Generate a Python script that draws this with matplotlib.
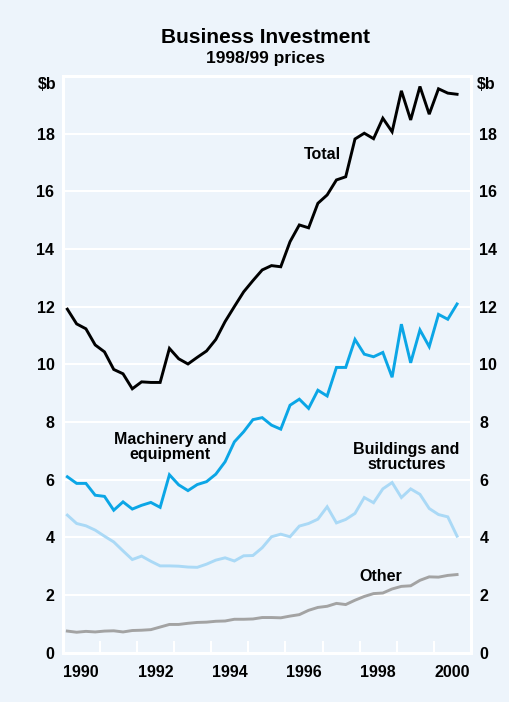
import matplotlib
matplotlib.use("Agg")
import matplotlib.pyplot as plt
import matplotlib.transforms as mtransforms
import numpy as np

plt.rcParams["font.family"] = ["Liberation Sans", "DejaVu Sans"]
plt.rcParams["font.weight"] = "bold"

# === Data: quarterly, Mar 1990 to Sep 2000 ($b, 1998/99 prices) ===
start_year = 1990
total = [11.91, 11.40, 11.23, 10.67, 10.43, 9.82, 9.67, 9.15, 9.39, 9.37, 9.37,
         10.55, 10.19, 10.01, 10.24, 10.46, 10.86, 11.48, 12.00, 12.51, 12.90,
         13.27, 13.42, 13.38, 14.25, 14.83, 14.73, 15.58, 15.87, 16.39, 16.50,
         17.81, 18.01, 17.82, 18.53, 18.06, 19.48, 18.47, 19.63, 18.67, 19.55,
         19.40, 19.36]
machinery = [6.10, 5.87, 5.87, 5.46, 5.42, 4.94, 5.23, 4.98, 5.11, 5.21, 5.04,
             6.17, 5.82, 5.62, 5.83, 5.93, 6.19, 6.62, 7.31, 7.66, 8.08, 8.15,
             7.89, 7.75, 8.58, 8.79, 8.47, 9.10, 8.90, 9.89, 9.89, 10.86, 10.35,
             10.26, 10.41, 9.55, 11.39, 10.05, 11.19, 10.61, 11.73, 11.56, 12.09]
buildings = [4.77, 4.48, 4.40, 4.25, 4.04, 3.84, 3.53, 3.23, 3.35, 3.17, 3.01,
             3.01, 3.00, 2.97, 2.96, 3.07, 3.21, 3.29, 3.18, 3.36, 3.37, 3.64,
             4.02, 4.11, 4.02, 4.39, 4.48, 4.63, 5.06, 4.50, 4.62, 4.83, 5.38,
             5.20, 5.68, 5.90, 5.38, 5.68, 5.49, 5.00, 4.79, 4.71, 4.04]
other = [0.75, 0.71, 0.74, 0.72, 0.75, 0.76, 0.72, 0.77, 0.78, 0.80, 0.89,
         0.98, 0.98, 1.02, 1.05, 1.06, 1.09, 1.10, 1.16, 1.16, 1.17, 1.22,
         1.22, 1.21, 1.27, 1.32, 1.47, 1.57, 1.61, 1.71, 1.67, 1.82, 1.95,
         2.05, 2.07, 2.21, 2.30, 2.32, 2.51, 2.63, 2.62, 2.68, 2.71]
year_labels = ["1990", "1992", "1994", "1996", "1998", "2000"]
y_ticks = [0, 2, 4, 6, 8, 10, 12, 14, 16, 18]

# quarters plotted at mid-quarter
x = start_year + 0.125 + 0.25 * np.arange(len(total))

bg = "#edf4fb"
fig = plt.figure(figsize=(5.09, 7.02), dpi=100, facecolor=bg)
ax = fig.add_axes([0.1232, 0.0702, 0.8021, 0.8218], facecolor=bg)

lw = 2.1
ax.plot(x, other, color="#a3a3a3", lw=lw, solid_joinstyle="miter")
ax.plot(x, buildings, color="#aad9f6", lw=lw, solid_joinstyle="miter")
ax.plot(x, machinery, color="#0ba6e6", lw=lw, solid_joinstyle="miter")
ax.plot(x, total, color="black", lw=lw, solid_joinstyle="miter")

ax.set_xlim(1990, 2001)
ax.set_ylim(0, 20)

# grid + frame
for y in y_ticks[1:]:
    ax.axhline(y, color="white", lw=1.5, zorder=0.5)
for s in ax.spines.values():
    s.set_color("white")
    s.set_linewidth(2.2)

# year ticks at boundaries, labels mid-year
ax.set_xticks(np.arange(1991, 2001), minor=True)
ax.set_xticks([int(y) + 0.5 for y in year_labels])
ax.set_xticklabels(year_labels)
ax.tick_params(axis="x", which="minor", direction="in", length=9, width=1.5,
               color="white")
ax.tick_params(axis="x", which="major", length=0, pad=9, labelsize=11.5)

ax.set_yticks(y_ticks)
ax.tick_params(axis="y", length=0, pad=6, labelsize=11.5, labelleft=True,
               labelright=True)

# $b units at top of both axes
trans = mtransforms.blended_transform_factory(ax.transAxes, ax.transData)
ax.text(-0.015, 19.95, "$b", transform=trans, ha="right", va="top",
        fontsize=11.5, fontweight="bold")
ax.text(1.015, 19.95, "$b", transform=trans, ha="left", va="top",
        fontsize=11.5, fontweight="bold")

# series labels
ax.text(1997.0, 17.26, "Total", ha="center", va="center", fontsize=11.5)
ax.text(1992.89, 7.14, "Machinery and\nequipment", ha="center", va="center",
        fontsize=11.5, linespacing=1.0)
ax.text(1999.26, 6.77, "Buildings and\nstructures", ha="center", va="center",
        fontsize=11.5, linespacing=1.0)
ax.text(1998.57, 2.65, "Other", ha="center", va="center", fontsize=11.5)

fig.text(0.522, 0.946, "Business Investment", ha="center", va="center",
         fontsize=15, fontweight="bold")
fig.text(0.522, 0.917, "1998/99 prices", ha="center", va="center",
         fontsize=12.5, fontweight="bold")

fig.savefig("out.png", dpi=100, facecolor=bg)
